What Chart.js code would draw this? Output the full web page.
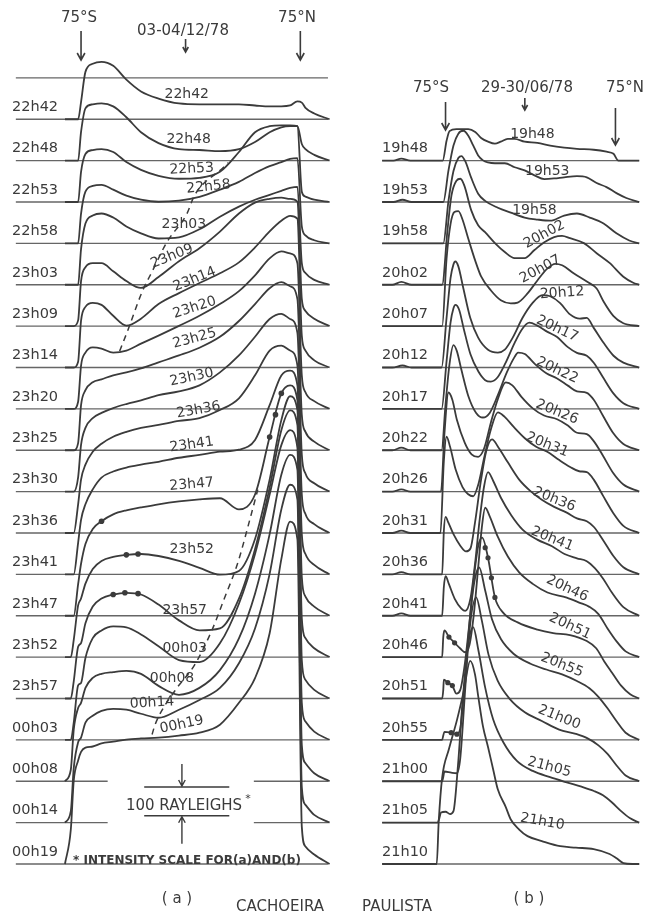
<!DOCTYPE html>
<html>
<head>
<meta charset="utf-8">
<script src="https://cdn.jsdelivr.net/npm/chart.js@4.4.1/dist/chart.umd.min.js"></script>
<style>
    html, body { margin: 0; padding: 0; background: #ffffff; }
    #wrap { width: 656px; height: 915px; position: relative; }
</style>
</head>
<body>
<div id="wrap"><canvas id="myChart"></canvas></div>
<script>
// ---- data (intensity in rayleighs above each trace's own baseline) ----

const TIMES_A = ["22h42", "22h48", "22h53", "22h58", "23h03", "23h09", "23h14", "23h20", "23h25", "23h30",
    "23h36", "23h41", "23h47", "23h52", "23h57", "00h03", "00h08", "00h14", "00h19"];
const TIMES_B = ["19h48", "19h53", "19h58", "20h02", "20h07", "20h12", "20h17", "20h22", "20h26",
    "20h31", "20h36", "20h41", "20h46", "20h51", "20h55", "21h00", "21h05", "21h10"];

// panel (a): scan position in degrees (75S = -75, 75N = 75), one value per position for each trace
const LAT_A = [-86, -82, -80, -77, -75, -72, -67, -61, -53, -44, -34, -22, -8, 6, 20, 33, 44, 54, 62, 68, 73, 76, 78.5, 84.5, 95];
const PROFILES_A = [
    [0, 0, 0, 0, 60, 165, 193, 200, 186, 138, 97, 72, 55, 52, 52, 52, 48, 45, 45, 48, 62, 58, 40, 20, 0],
    [0, 0, 0, 0, 100, 182, 196, 199, 189, 151, 99, 61, 40, 37, 33, 40, 65, 99, 116, 120, 120, 58, 40, 20, 0],
    [0, 0, 0, 0, 105, 167, 181, 184, 174, 139, 112, 91, 81, 84, 105, 174, 243, 264, 267, 267, 264, 36, 19, 8, 0],
    [0, 0, 0, 0, 104, 180, 200, 204, 187, 166, 152, 145, 149, 162, 187, 214, 245, 269, 283, 294, 297, 59, 28, 11, 0],
    [0, 0, 0, 0, 124, 213, 241, 248, 234, 203, 179, 161, 165, 193, 237, 272, 296, 313, 327, 337, 341, 75, 41, 17, 0],
    [0, 0, 0, 20, 157, 205, 219, 219, 191, 157, 133, 171, 226, 271, 329, 392, 430, 443, 447, 443, 433, 95, 53, 26, 0],
    [0, 0, 0, 20, 163, 211, 225, 218, 180, 146, 170, 221, 259, 294, 328, 366, 418, 474, 511, 528, 518, 111, 59, 25, 0],
    [0, 0, 0, 25, 151, 196, 214, 210, 196, 203, 227, 255, 289, 324, 365, 410, 465, 524, 548, 541, 507, 117, 58, 27, 0],
    [0, 0, 0, 25, 157, 209, 237, 247, 261, 271, 285, 306, 330, 357, 395, 450, 509, 564, 585, 571, 526, 123, 64, 30, 0],
    [0, 0, 0, 50, 163, 222, 256, 274, 291, 305, 318, 336, 349, 370, 415, 474, 539, 601, 619, 601, 553, 129, 63, 29, 0],
    [0, 0, 0, 100, 186, 238, 283, 311, 335, 352, 366, 376, 390, 400, 428, 469, 549, 635, 652, 635, 583, 135, 66, 31, 0],
    [0, 0, 0, 110, 190, 244, 296, 337, 358, 372, 382, 392, 406, 416, 427, 434, 468, 589, 692, 709, 658, 140, 71, 33, 0],
    [0, 0, 0, 110, 181, 250, 302, 329, 353, 367, 377, 388, 398, 405, 409, 370, 422, 622, 774, 802, 750, 136, 67, 32, 0],
    [0, 0, 60, 180, 204, 256, 307, 335, 349, 356, 359, 352, 335, 311, 287, 300, 411, 618, 825, 908, 860, 135, 66, 31, 0],
    [0, 0, 60, 180, 193, 262, 320, 348, 362, 368, 362, 327, 272, 237, 244, 348, 520, 734, 934, 1003, 952, 134, 65, 30, 0],
    [0, 0, 60, 190, 198, 285, 354, 381, 395, 392, 367, 326, 278, 271, 336, 474, 647, 854, 1026, 1078, 1016, 129, 64, 29, 0],
    [0, 40, 180, 255, 273, 325, 360, 374, 380, 384, 374, 332, 301, 325, 387, 497, 653, 860, 1067, 1136, 1084, 126, 63, 28, 0],
    [0, 40, 190, 280, 296, 348, 372, 389, 396, 393, 379, 365, 393, 427, 469, 555, 676, 866, 1090, 1176, 1124, 124, 62, 27, 0],
    [0, 120, 290, 360, 390, 405, 409, 420, 426, 433, 437, 440, 447, 457, 485, 561, 647, 803, 1061, 1192, 1130, 130, 61, 33, 0]
];

// panel (b): [scan position, rayleighs] pairs per trace
const PROFILES_B = [
    [[-131,0],[-121,0],[-114,7],[-106,0],[-77.5,0],[-74.1,69],[-71.5,103],[-65.4,110],[-54.9,110],[-48.8,100],[-43.6,79],[-37.5,66],[-31.4,59],[-26.2,66],[-20.1,76],[-14,76],[-5.2,66],[6.1,62],[17.4,52],[29.7,45],[41,41],[55.8,38],[67.1,31],[73.3,24],[77.6,0],[96,0]],
    [[-131,0],[-121,0],[-113,8],[-105,0],[-77,0],[-72.4,110],[-68,197],[-63.7,238],[-59.3,248],[-54.9,231],[-50.6,197],[-46.2,162],[-41.9,145],[-37.5,138],[-31.4,135],[-22.7,135],[-14,121],[-5.2,110],[3.5,93],[12.2,80],[20.9,82],[29.7,86],[41,90],[49.7,86],[58.4,66],[67.1,52],[75.9,31],[84.6,14],[96,0]],
    [[-131,0],[-77,0],[-72.4,148],[-68,252],[-63.7,297],[-61,304],[-57.6,286],[-52.3,228],[-46.2,173],[-40.1,148],[-28.8,124],[-17.4,107],[-5.2,90],[6.1,83],[17.4,79],[29.7,97],[41,104],[52.3,90],[64.5,69],[75.9,35],[87.2,10],[96,0]],
    [[-131,0],[-122,0],[-114,10],[-105,0],[-78,0],[-73.3,190],[-69.8,310],[-65.4,362],[-61.9,369],[-58.4,345],[-52.3,259],[-46.2,207],[-40.1,183],[-31.4,145],[-22.7,114],[-14,93],[-5.2,93],[3.5,121],[12.2,148],[20.9,166],[27.9,170],[34.9,162],[47.1,145],[58.4,110],[69.8,76],[82,28],[90.7,7],[96,0]],
    [[-131,0],[-78,0],[-74.1,235],[-70.6,355],[-67.2,397],[-63.7,400],[-60.2,373],[-54.9,304],[-48.8,228],[-43.6,173],[-34.9,124],[-26.2,90],[-17.4,79],[-11.3,82],[-2.6,114],[6.1,159],[14.8,200],[21.8,217],[27.9,212],[38.4,183],[49.7,155],[58.4,131],[64.5,86],[73.3,35],[82,10],[96,0]],
    [[-131,0],[-122,0],[-113,7],[-105,0],[-78.5,0],[-74.1,173],[-70.6,311],[-68,359],[-66.3,369],[-63.7,352],[-59.3,276],[-53.2,173],[-46.2,104],[-37.5,62],[-28.8,52],[-22.7,62],[-15.7,104],[-7,173],[1.7,224],[10.5,252],[17.4,248],[26.2,224],[34.9,185],[43.6,170],[49.7,173],[55.8,138],[64.5,86],[73.3,41],[82,17],[96,0]],
    [[-131,0],[-78.5,0],[-74,170],[-70.6,300],[-68,350],[-66.3,362],[-63,345],[-59,280],[-53,190],[-46,130],[-40,100],[-35,95],[-29,110],[-22,160],[-14,230],[-7,280],[-1,300],[6,290],[15,268],[23.5,250],[33,215],[41,195],[49.7,185],[56,160],[64,110],[73,55],[82,20],[96,0]],
    [[-131,0],[-122,0],[-114,9],[-106,0],[-78.5,0],[-75,160],[-71.5,300],[-68,366],[-65,345],[-61,280],[-55,190],[-48,130],[-42,114],[-36,130],[-29,190],[-21,270],[-14,325],[-11,340],[-5,335],[4,300],[14,268],[23.5,250],[33,225],[41,205],[49.7,200],[56,175],[64,120],[73,60],[82,22],[96,0]],
    [[-131,0],[-122,0],[-114,8],[-106,0],[-79,0],[-76,200],[-72.4,345],[-69,320],[-65,250],[-58,170],[-52,130],[-46.2,121],[-41,150],[-35,240],[-29,320],[-21.8,380],[-16,370],[-8,330],[2,290],[12,265],[23.5,252],[33,230],[41,205],[49.7,200],[56,175],[64,125],[73,65],[82,25],[96,0]],
    [[-131,0],[-122,0],[-114,8],[-106,0],[-79.5,0],[-76.5,250],[-74.1,335],[-71,300],[-66,220],[-60,160],[-55,135],[-50.6,128],[-46,170],[-41,260],[-35,360],[-28.8,420],[-23,405],[-15,370],[-5,330],[5,300],[14.8,283],[25,255],[35,230],[43,215],[49.7,212],[56,185],[64,130],[73,70],[82,25],[96,0]],
    [[-131,0],[-122,0],[-114,8],[-106,0],[-78,0],[-76.5,150],[-75,200],[-72.5,180],[-68,140],[-62,100],[-57,80],[-53,90],[-49,180],[-44,320],[-39,430],[-34,470],[-28,440],[-20,390],[-10,330],[0,290],[10,260],[20.9,235],[32,215],[41,195],[49.7,185],[56,165],[64,120],[73,65],[82,25],[96,0]],
    [[-131,0],[-122,0],[-114,8],[-106,0],[-78,0],[-76.5,100],[-75,138],[-72,110],[-67,60],[-61,25],[-57.6,17],[-53,60],[-49,180],[-45,330],[-41,450],[-37.5,500],[-33,470],[-26,410],[-17,350],[-7,300],[6,265],[19,242],[30,215],[41,200],[49.7,190],[57,165],[64,130],[72,80],[82,30],[96,0]],
    [[-131,0],[-78,0],[-77,70],[-76,93],[-72,70],[-67,50],[-62,30],[-57.6,17],[-54,40],[-50,150],[-46,320],[-43,450],[-40,520],[-36,490],[-29,420],[-20,350],[-10,295],[2,255],[15,225],[32,207],[43,190],[52,175],[60,150],[68,100],[76,55],[84,20],[96,0]],
    [[-131,0],[-78,0],[-77,30],[-76.5,66],[-73,55],[-69,45],[-65.4,17],[-62,30],[-58,120],[-54,260],[-50,420],[-46.2,530],[-42.7,560],[-37.5,490],[-31.4,352],[-24.4,300],[-11.3,265],[6.1,240],[20,228],[34.9,221],[49.7,200],[58,175],[65,130],[72,90],[80,45],[88,15],[96,0]],
    [[-131,0],[-78,0],[-77,15],[-76,28],[-70,25],[-65,20],[-62,40],[-58,200],[-54,400],[-50,540],[-45.3,600],[-40,520],[-34,420],[-26,350],[-15,300],[0,265],[14,245],[27.9,228],[41,205],[52,180],[60,150],[68,110],[76,65],[84,25],[96,0]],
    [[-131,0],[-78,0],[-77,15],[-76,34],[-70,30],[-65,28],[-62,80],[-58,300],[-54,520],[-48,640],[-43,560],[-37,440],[-29,350],[-18,285],[-5,240],[10,210],[25.3,180],[40,165],[50,150],[60,125],[68,95],[76,55],[84,20],[96,0]],
    [[-131,0],[-82,0],[-80.5,15],[-79,35],[-75,38],[-71,30],[-68,40],[-64,200],[-60,420],[-55,620],[-50.6,680],[-46,600],[-40,470],[-33,360],[-24,280],[-12,215],[2,180],[16.6,159],[32,140],[45,125],[56,110],[64,95],[72,70],[80,40],[88,15],[96,0]],
    [[-131,0],[-84,0],[-82.8,0],[-81,150],[-78,300],[-72,400],[-65,500],[-59,600],[-53.2,707],[-49,660],[-46,580],[-42,480],[-37.5,407],[-33,330],[-28.8,259],[-22,200],[-17.4,155],[-10,120],[-2.6,97],[10,80],[26.2,62],[40,57],[55.8,52],[69.8,35],[76,20],[82,3],[90,0],[96,0]]
];

// hand-drawn dashed guides of panel (a): [scan position, rayleighs above the 00h19 baseline]
const DASH_UPPER = [[-48.6,1785],[-43.2,1855],[-33.1,1993],[-26.4,2062],[-16.2,2165],[-2.7,2262],[2.7,2328],[22.3,2424],[25.7,2441]];
const DASH_LOWER = [[-26.4,451],[-24.3,486],[-10.8,603],[2.7,693],[14.2,810],[23,924],[32.4,1051],[39.2,1175],[45.9,1303]];

// marked points: [trace index, scan position, rayleighs]
const DOTS_A = [[12,-61,329],[13,-44,356],[13,-36,359],[14,-53,362],[14,-45,368],[14,-36,365],[12,54,622],[12,58,700],[12,62,774]];
const DOTS_B = [[12,-72,70],[12,-67,50],[13,-73,55],[13,-69,45],[14,-70,25],[14,-65,20],[13,-40,525],[13,-37.5,490],[13,-34.5,420],[13,-31.4,352]];

// in-plot time tags: [scan position, rayleighs above own baseline, rotation deg]
const TAGS_A = [[-2.7,86,0],[-1.4,75,0],[0.7,115,-3],[12.2,197,-6],[-4.7,210,0],[-12.8,243,-22],[2.7,307,-22],[2.7,352,-18],
    [2.7,389,-15],[0.7,398,-12],[5.4,428,-10],[0.7,451,-8],[0.7,457,-5],[0.7,376,0],[-4.1,306,0],[-4.1,319,0],[-12.8,359,0],[-26.4,417,-3],[-6.1,485,-12]];
const TAGS_B = [[1.7,92,0],[14.8,105,0],[3.5,114,0],[12.2,175,-28],[8.7,198,-28],[27.9,259,-4],[23.5,279,25],[23.5,278,25],[23.5,277,22],
    [14.8,307,22],[20.9,261,22],[19.2,267,22],[32.3,239,25],[34.9,251,25],[27.9,260,22],[25.3,222,22],[16.6,193,15],[10.5,147,10]];

const SCALE_R = 100;          // the "100 RAYLEIGHS" bar
const STEP = 144;             // rayleighs between stacked baselines

// ---- layout ----
const INK = "#3b3b3b";
const FONT = '"DejaVu Sans", "Liberation Sans", sans-serif';
const LINE_A = [-119.6, 93.9];
const LINE_B = [-130.8, 95.9];
const GAP_A = [-56.8, 43.2];
const BROKEN_A = [16, 17];

const offsetA = i => (TIMES_A.length - 1 - i) * STEP;
const offsetB = j => (TIMES_B.length - 1 - j) * STEP;

function base(axis, v, from, to, gap) {
    let pts = [{ x: from, y: v }, { x: to, y: v }];
    if (gap) {
        pts = [{ x: from, y: v }, { x: gap[0], y: v }, { x: (gap[0] + gap[1]) / 2, y: null }, { x: gap[1], y: v }, { x: to, y: v }];
    }
    return { xAxisID: axis, yAxisID: "y", data: pts, borderColor: "#666", borderWidth: 1.3, pointRadius: 0, tension: 0, spanGaps: false, order: 3 };
}

function trace(axis, pts) {
    return { xAxisID: axis, yAxisID: "y", data: pts, borderColor: INK, borderWidth: 1.8, pointRadius: 0,
        cubicInterpolationMode: "monotone", order: 2 };
}

const datasets = [];
for (let i = -1; i < TIMES_A.length; i++) {
    datasets.push(base("x", offsetA(i), LINE_A[0], LINE_A[1], BROKEN_A.includes(i) ? GAP_A : null));
}
TIMES_B.forEach((t, j) => datasets.push(base("xb", offsetB(j), LINE_B[0], LINE_B[1], null)));

PROFILES_A.forEach((vals, i) => {
    datasets.push(trace("x", LAT_A.map((lat, k) => ({ x: lat, y: vals[k] + offsetA(i) }))));
});
PROFILES_B.forEach((pairs, j) => {
    datasets.push(trace("xb", pairs.map(([lat, r]) => ({ x: lat, y: r + offsetB(j) }))));
});

[DASH_UPPER, DASH_LOWER].forEach(d => {
    datasets.push({ xAxisID: "x", yAxisID: "y", data: d.map(([lat, v]) => ({ x: lat, y: v })), borderColor: INK,
        borderWidth: 1.5, borderDash: [6, 5], pointRadius: 0, cubicInterpolationMode: "monotone", order: 2 });
});

datasets.push({ xAxisID: "x", yAxisID: "y", showLine: false, pointRadius: 2.8, pointBackgroundColor: INK, pointBorderWidth: 0,
    data: DOTS_A.map(([i, lat, r]) => ({ x: lat, y: r + offsetA(i) })), order: 1 });
datasets.push({ xAxisID: "xb", yAxisID: "y", showLine: false, pointRadius: 2.6, pointBackgroundColor: INK, pointBorderWidth: 0,
    data: DOTS_B.map(([j, lat, r]) => ({ x: lat, y: r + offsetB(j) })), order: 1 });

function arrow(ctx, x, y1, y2, head) {
    ctx.beginPath();
    ctx.moveTo(x, y1);
    ctx.lineTo(x, y2);
    const d = y2 > y1 ? -1 : 1;
    ctx.moveTo(x - head * 0.55, y2 + d * head);
    ctx.lineTo(x, y2);
    ctx.lineTo(x + head * 0.55, y2 + d * head);
    ctx.stroke();
}

function tag(ctx, text, x, y, deg) {
    ctx.save();
    ctx.translate(x, y);
    ctx.rotate(deg * Math.PI / 180);
    ctx.fillText(text, 0, 0);
    ctx.restore();
}

const annotate = {
    id: "annotate",
    beforeDraw(chart) {
        const ctx = chart.ctx;
        ctx.save();
        ctx.fillStyle = "#ffffff";
        ctx.fillRect(0, 0, chart.width, chart.height);
        ctx.restore();
    },
    afterDatasetsDraw(chart) {
        const ctx = chart.ctx;
        const xa = chart.scales.x, xb = chart.scales.xb, y = chart.scales.y;
        ctx.save();
        ctx.fillStyle = INK;
        ctx.strokeStyle = INK;
        ctx.lineWidth = 1.6;
        ctx.textBaseline = "middle";

        // row labels
        ctx.font = "14.5px " + FONT;
        ctx.textAlign = "left";
        TIMES_A.forEach((t, i) => ctx.fillText(t, 12, y.getPixelForValue(offsetA(i)) - 12));
        TIMES_B.forEach((t, j) => ctx.fillText(t, 382, y.getPixelForValue(offsetB(j)) - 12));

        // tags on the traces
        ctx.textAlign = "center";
        ctx.font = "14px " + FONT;
        TAGS_A.forEach(([lat, r, deg], i) => tag(ctx, TIMES_A[i], xa.getPixelForValue(lat), y.getPixelForValue(r + offsetA(i)), deg));
        TAGS_B.forEach(([lat, r, deg], j) => tag(ctx, TIMES_B[j], xb.getPixelForValue(lat), y.getPixelForValue(r + offsetB(j)), deg));

        // headers and arrows
        ctx.font = "15px " + FONT;
        ctx.fillText("75°S", 79, 18);
        ctx.fillText("03-04/12/78", 183, 31);
        ctx.fillText("75°N", 297, 18);
        arrow(ctx, xa.getPixelForValue(-75), 31, 60, 7);
        arrow(ctx, xa.getPixelForValue(-3.5), 39, 52, 5);
        arrow(ctx, xa.getPixelForValue(75), 31, 60, 7);

        ctx.fillText("75°S", 431, 88);
        ctx.fillText("29-30/06/78", 527, 88);
        ctx.fillText("75°N", 625, 88);
        arrow(ctx, xb.getPixelForValue(-75), 102, 130, 7);
        arrow(ctx, xb.getPixelForValue(-5), 98, 110, 5);
        arrow(ctx, xb.getPixelForValue(75), 108, 145, 7);

        // intensity scale bar
        const yTop = y.getPixelForValue(168 + SCALE_R), yBot = y.getPixelForValue(168);
        const bx1 = xa.getPixelForValue(-31.8), bx2 = xa.getPixelForValue(26.4), bxm = xa.getPixelForValue(-6);
        ctx.lineWidth = 1.4;
        ctx.beginPath();
        ctx.moveTo(bx1, yTop); ctx.lineTo(bx2, yTop);
        ctx.moveTo(bx1, yBot); ctx.lineTo(bx2, yBot);
        ctx.stroke();
        arrow(ctx, bxm, yTop - 23, yTop - 1, 6);
        arrow(ctx, bxm, yBot + 28, yBot + 1, 6);
        ctx.font = "15px " + FONT;
        ctx.fillText("100 RAYLEIGHS", 184, 806);
        ctx.font = "11px " + FONT;
        ctx.fillText("*", 248, 799);
        ctx.font = "bold 12px " + FONT;
        ctx.fillText("* INTENSITY SCALE FOR(a)AND(b)", 187, 861);

        // panel captions
        ctx.font = "15px " + FONT;
        ctx.fillText("( a )", 177, 899);
        ctx.fillText("( b )", 529, 899);
        ctx.fillText("CACHOEIRA", 280, 907);
        ctx.fillText("PAULISTA", 397, 907);
        ctx.restore();
    }
};

new Chart("myChart", {
    type: "line",
    data: { datasets: datasets },
    options: {
        responsive: true,
        maintainAspectRatio: false,
        animation: false,
        events: [],
        layout: { padding: 0 },
        scales: {
            x: { type: "linear", min: -127.70, max: 315.54, display: false },
            xb: { type: "linear", min: -464.81, max: 107.27, display: false },
            y: { type: "linear", min: -163.5, max: 2993.2, display: false }
        },
        plugins: {
            legend: { display: false },
            tooltip: { enabled: false },
            title: { display: false }
        }
    },
    plugins: [annotate]
});
</script>
</body>
</html>
